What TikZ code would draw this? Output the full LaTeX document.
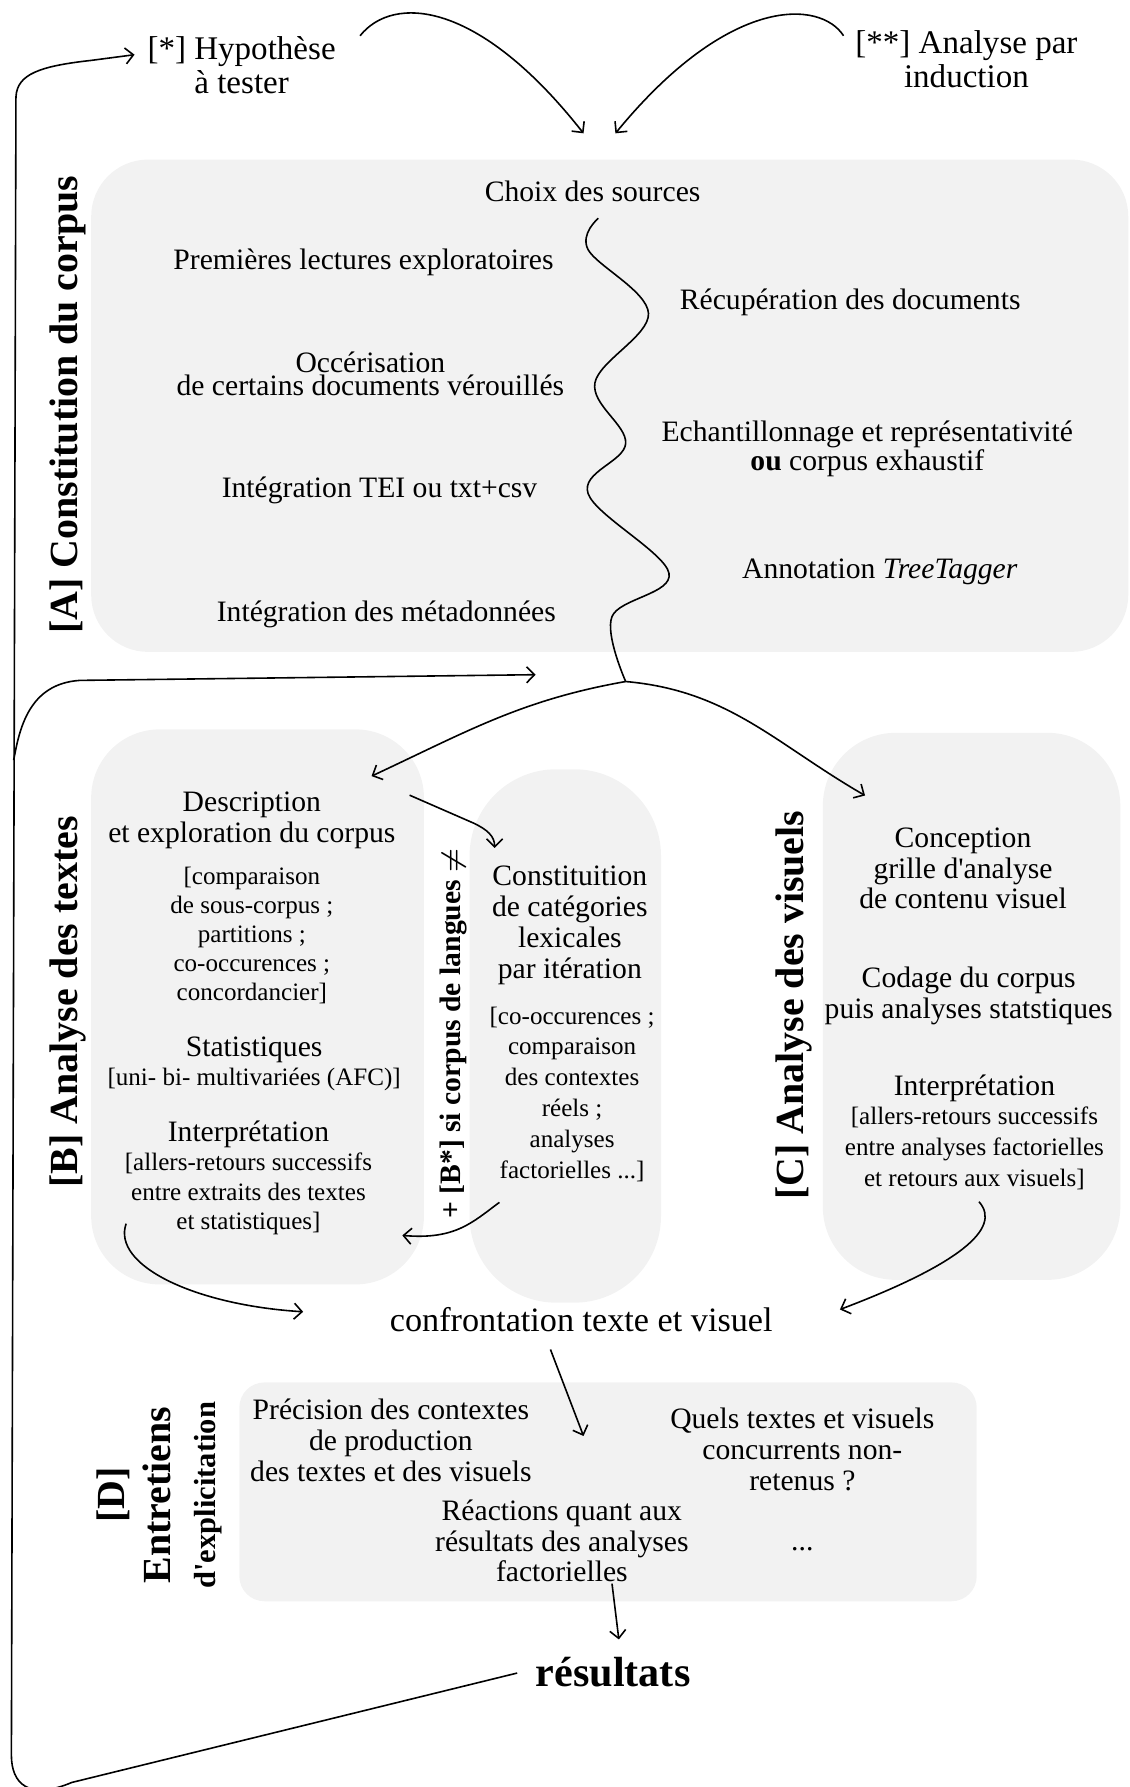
\documentclass[tikz,border=0pt]{standalone}
\usepackage{fontspec}
\setmainfont{Liberation Serif}
\newfontfamily\quotefont{Liberation Serif}
\usepackage{tikz}
\usetikzlibrary{arrows.meta}
\usetikzlibrary{fit}
\usetikzlibrary{positioning}
\usetikzlibrary{calc}

\definecolor{panelgray}{HTML}{F2F2F2}
\newcommand{\setsz}[2]{\fontsize{#1}{#2}\selectfont}
\newcommand{\sq}{{\quotefont'}}

\begin{document}
\begin{tikzpicture}[x=0.5pt, y=-0.5pt,
  panel/.style={fill=panelgray, inner sep=0pt},
  txt/.style={align=center, inner sep=0pt, font=\setsz{13}{13.5}},
  note/.style={align=center, inner sep=0pt, font=\setsz{11}{13}},
  sidelabel/.style={rotate=90, inner sep=0pt, font=\bfseries\setsz{17.5}{20}},
  wire/.style={line width=0.7pt},
  flow/.style={-{Straight Barb[length=3.5pt,width=7pt]}, line width=0.7pt}]
  \useasboundingbox (0,0) rectangle (991,1568);

  % grey panels
  \coordinate (A nw) at (80,140);   \coordinate (A se) at (990,572);
  \coordinate (B nw) at (80,640);   \coordinate (B se) at (372,1127);
  \coordinate (Bs nw) at (412,675); \coordinate (Bs se) at (580,1143);
  \coordinate (C nw) at (722,643);  \coordinate (C se) at (983,1123);
  \coordinate (D nw) at (210,1213); \coordinate (D se) at (857,1405);
  \node [panel, rounded corners=25pt, fit={(A nw) (A se)}] (boxA) {};
  \node [panel, rounded corners=30pt, fit={(B nw) (B se)}] (boxB) {};
  \node [panel, rounded corners=38pt, fit={(Bs nw) (Bs se)}] (boxBs) {};
  \node [panel, rounded corners=32pt, fit={(C nw) (C se)}] (boxC) {};
  \node [panel, rounded corners=11pt, fit={(D nw) (D se)}] (boxD) {};

  % top
  \node [txt, font=\setsz{14.5}{15}] (hyp) at (212,57) {[*] Hypothèse\\à tester};
  \node [txt, font=\setsz{14.5}{15}] (ind) at (848,52) {[**] Analyse par\\induction};

  % [A]
  \node [sidelabel] (labA) at (60,355) {[A] Constitution du corpus};
  \node [txt] (choix) at (520,168) {Choix des sources};
  \node [txt] (lect) at (319,230) {Premières lectures exploratoires};
  \node [txt] (recup) at (746,265) {Récupération des documents};
  \node [txt, font=\setsz{13}{10}] (ocr) at (325,328) {Occérisation\\de certains documents vérouillés};
  \node [txt, font=\setsz{13}{11}] (echant) at (761,394) {Echantillonnage et représentativité\\\textbf{ou} corpus exhaustif};
  \node [txt] (tei) at (333,430) {Intégration TEI ou txt+csv};
  \node [txt] (annot) at (772,502) {Annotation \textit{TreeTagger}};
  \node [txt] (meta) at (339,539) {Intégration des métadonnées};

  % [B]
  \node [sidelabel] (labB) at (60,879) {[B] Analyse des textes};
  \node [txt] (desc) at (221,720) {Description\\et exploration du corpus};
  \node [note, font=\setsz{11}{12.75}] (comp) at (221,821) {[comparaison\\de sous-corpus ;\\partitions ;\\co-occurences ;\\concordancier]};
  \node [txt] (stat) at (223,921) {Statistiques};
  \node [note, below=2pt of stat] (uni) {[uni- bi- multivariées (AFC)]};
  \node [txt] (interpB) at (218,995) {Interprétation};
  \node [note, below=2pt of interpB] (allerB) {[allers-retours successifs\\entre extraits des textes\\et statistiques]};

  % [B*]
  \node [sidelabel, font=\bfseries\setsz{13}{15}] (labBs) at (398,907) {+ [B*] si corpus de langues {\boldmath$\neq$}};
  \node [txt] (const) at (500,812) {Constituition\\de catégories\\lexicales\\par itération};
  \node [note, font=\setsz{11}{13.5}] (cooc) at (502,960) {[co-occurences ;\\comparaison\\des contextes\\réels ;\\analyses\\factorielles ...]};

  % [C]
  \node [sidelabel] (labC) at (697,882) {[C] Analyse des visuels};
  \node [txt] (concep) at (845,762) {Conception\\grille d\sq analyse\\de contenu visuel};
  \node [txt] (codage) at (850,874) {Codage du corpus\\puis analyses statstiques};
  \node [txt] (interpC) at (855,955) {Interprétation};
  \node [note, font=\setsz{11}{13.5}, below=2pt of interpC] (allerC) {[allers-retours successifs\\entre analyses factorielles\\et retours aux visuels]};

  \node [txt, font=\setsz{15}{16}] (confront) at (510,1158) {confrontation texte et visuel};

  % [D]
  \node [sidelabel, align=center] (labD) at (140,1312) {[D]\\Entretiens\\{\setsz{13.4}{20}d\sq explicitation}};
  \node [txt] (prec) at (343,1264) {Précision des contextes\\de production\\des textes et des visuels};
  \node [txt] (quels) at (704,1272) {Quels textes et visuels\\concurrents non-\\retenus ?};
  \node [txt] (react) at (493,1352) {Réactions quant aux\\résultats des analyses\\factorielles};
  \node [txt] (dots) at (704,1359) {...};

  \node [txt, font=\bfseries\setsz{18.5}{20}] (res) at (538,1467) {résultats};

  % arrow ends
  \coordinate (A top1) at (512,117);
  \coordinate (A top2) at (540,117);
  \coordinate (wave top) at ($(choix.south)+(5,14)$);
  \coordinate (fork) at (549,598);
  \coordinate (desc in) at (326,681);
  \coordinate (C in) at (759,698);
  \coordinate (Bs in) at (434,744);
  \coordinate (B back) at (353,1084);
  \coordinate (B conf) at (266,1151);
  \coordinate (C conf) at (737,1149);
  \coordinate (D in) at (512,1260);
  \coordinate (loop fork) at (12,667);
  \coordinate (A in) at (470,592);

  \draw [flow] ($(hyp.north east)+(21,0)$) .. controls (345,-5) and (420,0) .. (A top1);
  \draw [flow] ($(ind.north west)+(-10,5)$) .. controls (720,0) and (640,-5) .. (A top2);

  \draw [wire] plot [smooth, tension=0.6] coordinates {(wave top) (516,219) (569,275) (522,336) (549,389) (516,433) (587,503) (537,541) (fork)};
  \draw [flow] (fork) to[out=190, in=25] (desc in);
  \draw [flow] (fork) to[out=-5, in=150] (C in);

  \draw [flow] ($(desc.north east)+(12,3)$) -- (415,722) .. controls (428,728) and (434,734) .. (Bs in);
  \draw [flow] ($(cooc.south west)+(9,18)$) .. controls (415,1072) and (400,1088) .. (B back);
  \draw [flow] ($(allerB.west)+(1.5,26)$) .. controls (98,1110) and (170,1145) .. (B conf);
  \draw [flow] ($(allerC.south)+(4,10)$) .. controls (880,1078) and (840,1110) .. (C conf);
  \draw [flow] ($(confront.south)+(-27,15)$) -- (D in);
  \draw [flow] ($(react.south)+(44,1)$) -- ($(res.north)+(5,-15)$);

  % feedback loop
  \draw [flow] ($(res.west)+(-16,1)$) -- (63,1564) .. controls (25,1580) and (10,1565) .. (10,1540)
    -- (14,85) .. controls (15,65) and (35,58) .. (80,53) -- ($(hyp.west)+(-11,-9)$);
  \draw [flow] (loop fork) .. controls (17,640) and (25,600) .. (70,597) -- (A in);
\end{tikzpicture}
\end{document}
